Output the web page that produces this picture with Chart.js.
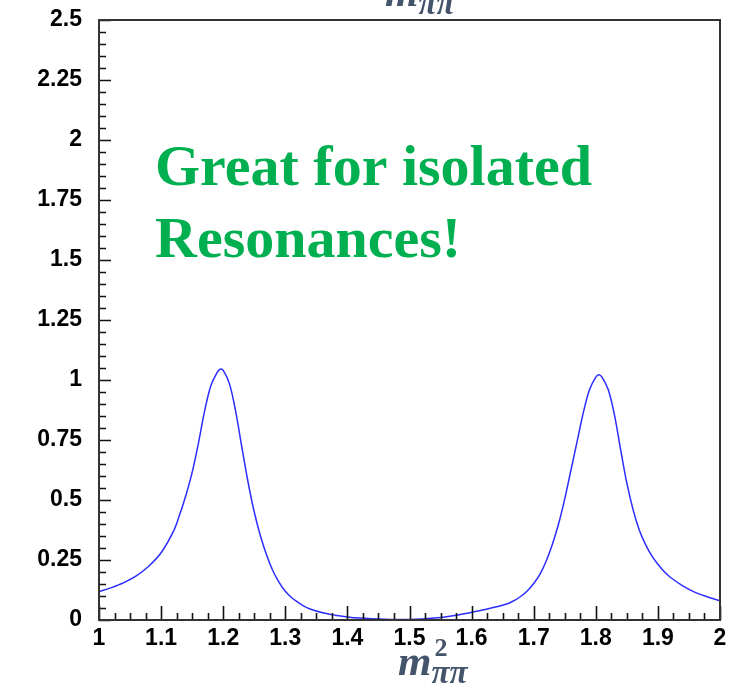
<!DOCTYPE html>
<html>
<head>
<meta charset="utf-8">
<script src="https://cdn.jsdelivr.net/npm/chart.js@4.4.1/dist/chart.umd.min.js"></script>
<style>
  body { margin: 0; background: #fff; }
  #box { width: 733px; height: 689px; }
</style>
</head>
<body>
<div id="box"><canvas id="myChart" width="733" height="689"></canvas></div>
<script>
// curve: m^2 (x) vs intensity (y)
let xValues = [1.00, 1.02, 1.04, 1.06, 1.08, 1.10, 1.12, 1.13, 1.14, 1.15, 1.16, 1.17, 1.18, 1.19, 1.195,
  1.20, 1.21, 1.22, 1.23, 1.24, 1.25, 1.26, 1.27, 1.28, 1.29, 1.30, 1.31, 1.32, 1.33, 1.34, 1.36, 1.38, 1.40,
  1.42, 1.44, 1.46, 1.48, 1.50, 1.52, 1.54, 1.56, 1.58, 1.60, 1.62, 1.64, 1.66, 1.67, 1.68, 1.69, 1.70,
  1.71, 1.72, 1.73, 1.74, 1.75, 1.76, 1.77, 1.78, 1.79, 1.80, 1.805, 1.81, 1.82, 1.83, 1.84, 1.85,
  1.86, 1.87, 1.88, 1.89, 1.90, 1.91, 1.92, 1.94, 1.96, 1.98, 2.00];
let yValues = [0.118, 0.135, 0.156, 0.184, 0.224, 0.28, 0.37, 0.44, 0.52, 0.615, 0.735, 0.87, 0.975, 1.03, 1.045,
  1.04, 0.985, 0.87, 0.72, 0.575, 0.45, 0.35, 0.27, 0.205, 0.157, 0.12, 0.094, 0.074, 0.058, 0.046, 0.03, 0.02, 0.013,
  0.008, 0.005, 0.003, 0.002, 0.002, 0.004, 0.008, 0.014, 0.022, 0.032, 0.043, 0.055, 0.07, 0.083, 0.10, 0.122, 0.152,
  0.19, 0.245, 0.315, 0.40, 0.505, 0.625, 0.745, 0.865, 0.96, 1.012, 1.022, 1.012, 0.96, 0.855, 0.71, 0.57,
  0.46, 0.375, 0.315, 0.268, 0.232, 0.202, 0.178, 0.142, 0.115, 0.096, 0.08];

let xMin = 1, xMax = 2, xStep = 0.1, xMinorStep = 0.025;
let yMin = 0, yMax = 2.5, yStep = 0.25, yMinorStep = 0.05;

let noteLines = ["Great for isolated", "Resonances!"];

var ctx = document.getElementById("myChart");

function fmt(v) {
  return String(Math.round(v * 100) / 100);
}

// frame, inward ticks, text annotations
const decorate = {
  id: "decorate",
  afterDraw(chart) {
    let c = chart.ctx;
    let a = chart.chartArea;
    let xs = chart.scales.x;
    let ys = chart.scales.y;
    c.save();

    // ticks
    c.strokeStyle = "#111";
    c.lineWidth = 1.6;
    c.beginPath();
    let n = Math.round((yMax - yMin) / yMinorStep);
    for (i = 0; i <= n; i++) {
      let v = yMin + i * yMinorStep;
      let py = Math.round(ys.getPixelForValue(v)) + 0.5;
      let major = i % Math.round(yStep / yMinorStep) == 0;
      c.moveTo(a.left, py);
      c.lineTo(a.left + (major ? 12 : 7), py);
    }
    n = Math.round((xMax - xMin) / xMinorStep);
    for (i = 0; i <= n; i++) {
      let v = xMin + i * xMinorStep;
      let px = Math.round(xs.getPixelForValue(v)) + 0.5;
      let major = i % Math.round(xStep / xMinorStep) == 0;
      c.moveTo(px, a.bottom);
      c.lineTo(px, a.bottom - (major ? 14 : 7));
    }
    c.stroke();

    // frame
    c.strokeStyle = "#333";
    c.lineWidth = 2;
    c.strokeRect(a.left, a.top, a.right - a.left, a.bottom - a.top);

    // green note
    c.fillStyle = "#00b050";
    c.font = 'bold 58px "Liberation Serif"';
    c.textAlign = "left";
    c.textBaseline = "alphabetic";
    c.fillText(noteLines[0], 155, 185);
    c.fillText(noteLines[1], 155, 257);

    // math labels
    c.fillStyle = "#44546a";
    drawMass(c, 398, 675, true);
    drawMass(c, 385, 6, false);
    c.restore();
  },
};

function drawMass(c, x, base, squared) {
  c.font = 'italic bold 43px "Liberation Serif"';
  c.fillText("m", x, base);
  let w = c.measureText("m").width;
  if (squared) {
    c.font = 'bold 26px "Liberation Serif"';
    c.fillText("2", x + w + 3, base - 19);
  }
  c.font = 'italic bold 33px "Liberation Serif"';
  c.fillText("\u03c0\u03c0", x + w, base + 8);
}

var tickFont = { family: "Liberation Sans", weight: "bold", size: 23 };

var myChart = new Chart(ctx, {
  type: "line",
  data: {
    datasets: [
      {
        data: xValues.map((x, i) => ({ x: x, y: yValues[i] })),
        borderColor: "rgb(45, 45, 255)",
        borderWidth: 1.5,
        pointRadius: 0,
        fill: false,
        tension: 0.35,
      },
    ],
  },
  options: {
    responsive: false,
    animation: false,
    layout: { padding: { top: 20, right: 13, left: 0, bottom: 0 } },
    plugins: { legend: { display: false }, tooltip: { enabled: false } },
    scales: {
      x: {
        type: "linear",
        min: xMin,
        max: xMax,
        grid: { display: false, drawTicks: false },
        border: { display: false },
        ticks: {
          stepSize: xStep,
          padding: 5,
          color: "#000",
          font: tickFont,
          maxRotation: 0,
          autoSkip: false,
          callback: (v) => fmt(v),
        },
        afterFit: (s) => {
          s.height = 69;
          s.paddingLeft = 0;
          s.paddingRight = 0;
        },
      },
      y: {
        min: yMin,
        max: yMax,
        grid: { display: false, drawTicks: false },
        border: { display: false },
        ticks: {
          stepSize: yStep,
          padding: 17,
          color: "#000",
          font: tickFont,
          autoSkip: false,
          callback: (v) => fmt(v),
        },
        afterFit: (s) => {
          s.width = 99;
          s.paddingTop = 0;
          s.paddingBottom = 0;
        },
      },
    },
  },
  plugins: [decorate],
});
</script>
</body>
</html>
